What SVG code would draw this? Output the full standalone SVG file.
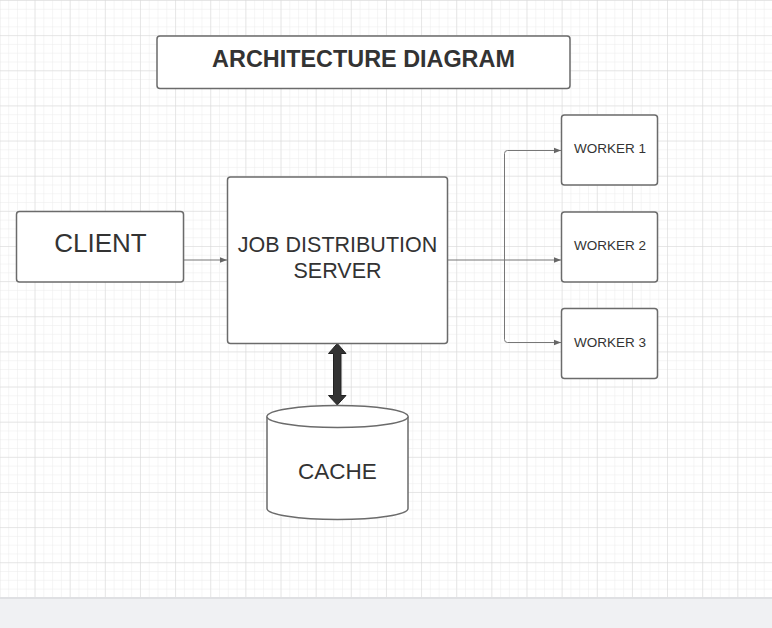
<svg xmlns="http://www.w3.org/2000/svg" width="772" height="628" viewBox="0 0 772 628">
  <defs>
    <pattern id="minor" x="-0.6" y="0" width="8.785" height="8.785" patternUnits="userSpaceOnUse">
      <path d="M0 0H8.785M0 0V8.785" fill="none" stroke="#ececec" stroke-width="1"/>
    </pattern>
    <pattern id="major" x="-0.6" y="0" width="35.14" height="35.14" patternUnits="userSpaceOnUse">
      <path d="M0 0H35.14M0 0V35.14" fill="none" stroke="#d8d8d8" stroke-width="1"/>
    </pattern>
    <marker id="arr" viewBox="0 0 10 10" refX="10" refY="5" markerWidth="7" markerHeight="7" markerUnits="userSpaceOnUse" orient="auto">
      <path d="M0 1L10 5L0 9Z" fill="#666"/>
    </marker>
    <style>
      .box{fill:#fff;stroke:#6b6b6b;stroke-width:1.5}
      .lbl{font-family:"Liberation Sans",Arial,sans-serif;fill:#333;text-anchor:middle}
      .con{fill:none;stroke:#777;stroke-width:1}
    </style>
  </defs>
  <rect width="772" height="628" fill="#fff"/>
  <rect width="772" height="598" fill="url(#minor)"/>
  <rect width="772" height="598" fill="url(#major)"/>
  <rect x="0" y="597" width="772" height="31" fill="#f0f1f3"/>
  <rect x="0" y="597" width="772" height="2" fill="#dfe0e3"/>

  <g id="title">
    <rect class="box" x="157" y="36" width="413" height="52.5" rx="3"/>
    <text class="lbl" x="363.5" y="66.5" font-size="23.4" font-weight="bold">ARCHITECTURE DIAGRAM</text>
  </g>

  <g id="connectors">
    <path class="con" d="M183.5 260H227" marker-end="url(#arr)"/>
    <path class="con" d="M447.5 260H561" marker-end="url(#arr)"/>
    <path class="con" d="M504.5 260V153.5Q504.5 150.5 507.5 150.5H561" marker-end="url(#arr)"/>
    <path class="con" d="M504.5 260V339.5Q504.5 342.5 507.5 342.5H561" marker-end="url(#arr)"/>
    <path d="M337.3 343.5L346 353.5H341V395.5H346L337.3 405L328.5 395.5H333.5V353.5H328.5Z" fill="#333" stroke="#222" stroke-width="1" stroke-linejoin="round"/>
  </g>

  <g id="client">
    <rect class="box" x="16.5" y="211.5" width="167" height="70.5" rx="3"/>
    <text class="lbl" x="100.5" y="251.5" font-size="26">CLIENT</text>
  </g>

  <g id="server">
    <rect class="box" x="227.5" y="177" width="220" height="166.5" rx="3"/>
    <text class="lbl" x="337.5" y="252.3" font-size="21.5">JOB DISTRIBUTION</text>
    <text class="lbl" x="337.5" y="278.3" font-size="21.5">SERVER</text>
  </g>

  <g id="worker1">
    <rect class="box" x="561.5" y="115" width="96" height="70" rx="3"/>
    <text class="lbl" x="610" y="153" font-size="13.5">WORKER 1</text>
  </g>
  <g id="worker2">
    <rect class="box" x="561.5" y="212" width="96" height="70" rx="3"/>
    <text class="lbl" x="610" y="250" font-size="13.5">WORKER 2</text>
  </g>
  <g id="worker3">
    <rect class="box" x="561.5" y="308.5" width="96" height="70" rx="3"/>
    <text class="lbl" x="610" y="346.7" font-size="13.5">WORKER 3</text>
  </g>

  <g id="cache">
    <path class="box" d="M267 416.5V508.5A70.5 11 0 0 0 408 508.5V416.5A70.5 11 0 0 0 267 416.5Z"/>
    <path class="box" d="M267 416.5A70.5 11 0 0 0 408 416.5" fill="none"/>
    <text class="lbl" x="337.5" y="479" font-size="22.5">CACHE</text>
  </g>
</svg>
